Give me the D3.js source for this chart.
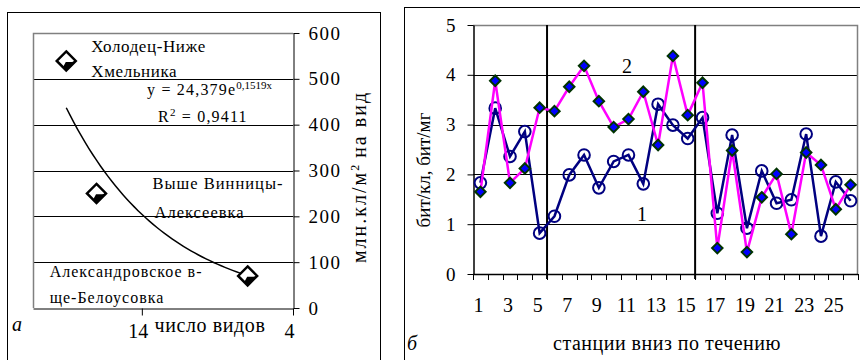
<!DOCTYPE html>
<html>
<head>
<meta charset="utf-8">
<script src="https://cdn.jsdelivr.net/npm/d3@7/dist/d3.min.js"></script>
<style>
    html, body { margin: 0; padding: 0; background: #fff; }
    svg { display: block; }
    svg text { font-family: "Liberation Serif", "Times New Roman", Tinos, "DejaVu Serif", serif; }
</style>
</head>
<body>
<svg id="chart" width="860" height="360"></svg>
<script>
// ---- panel a: density vs species number ----
const siteNames = [
    ['Холодец-Ниже', 'Хмельника'],
    ['Выше Винницы-', 'Алексеевка'],
    ['Александровское в-', 'ще-Белоусовка']
];
const speciesCount = [19, 17, 7];
const densityPerSpecies = [539, 250, 70];
const trendA = 24.379;
const trendB = 0.1519;
const leftYTicks = [0, 100, 200, 300, 400, 500, 600];
const leftXTicks = [14, 4];

// ---- panel б: information index by station ----
const stations = [1, 2, 3, 4, 5, 6, 7, 8, 9, 10, 11, 12, 13, 14, 15, 16, 17, 18, 19, 20, 21, 22, 23, 24, 25, 26];
const series1 = [1.83, 3.33, 2.36, 2.86, 0.82, 1.16, 1.99, 2.39, 1.73, 2.26, 2.39, 1.81, 3.41,
                 2.99, 2.72, 3.14, 1.22, 2.79, 0.92, 2.07, 1.42, 1.49, 2.81, 0.76, 1.85, 1.47];
const series2 = [1.65, 3.88, 1.83, 2.12, 3.34, 3.27, 3.76, 4.18, 3.47, 2.95, 3.11, 3.66, 2.59,
                 4.38, 3.19, 3.84, 0.52, 2.48, 0.44, 1.54, 2.01, 0.80, 2.44, 2.19, 1.30, 1.79];
const rightYTicks = [0, 1, 2, 3, 4, 5];
const stationLabels = [1, 3, 5, 7, 9, 11, 13, 15, 17, 19, 21, 23, 25];
const sectionBreaks = [5, 15]; // vertical divider after these stations

const SERIF = '"Liberation Serif", "Times New Roman", Tinos, "DejaVu Serif", serif';
const svg = d3.select('#chart');

// outer frames
svg.append('rect').attr('x', 7.5).attr('y', 12.5).attr('width', 373).attr('height', 400)
    .attr('fill', 'none').attr('stroke', '#000');
svg.append('rect').attr('x', 404.5).attr('y', 7.5).attr('width', 500).attr('height', 400)
    .attr('fill', 'none').attr('stroke', '#000');

// ================= panel a =================
const L = { left: 33, right: 293, top: 33, bottom: 308 };
const xL = d3.scaleLinear().domain([21.2, 4]).range([L.left, L.right]);
const yL = d3.scaleLinear().domain([0, 600]).range([L.bottom, L.top]);

const gA = svg.append('g');

// gridlines
gA.selectAll('.gridL')
    .data(leftYTicks.filter(d => d > 0 && d < 600))
    .enter().append('line')
    .attr('x1', L.left).attr('x2', L.right)
    .attr('y1', d => Math.round(yL(d)) + 0.5).attr('y2', d => Math.round(yL(d)) + 0.5)
    .attr('stroke', '#000');

// plot frame (top / left gray)
gA.append('path')
    .attr('d', `M${L.left + 0.5},${L.bottom}V${L.top + 0.5}H${L.right}`)
    .attr('fill', 'none').attr('stroke', '#808080').attr('stroke-width', 1.5);

// right value axis
const yAxisL = d3.axisRight(yL).tickValues(leftYTicks).tickFormat(d3.format('d'))
    .tickSize(6).tickSizeOuter(0).tickPadding(9);
gA.append('g')
    .attr('transform', `translate(${L.right + 0.5},0)`)
    .call(yAxisL)
    .attr('font-family', SERIF)
    .call(g => g.select('.domain').attr('stroke', '#000'))
    .call(g => g.selectAll('text')
        .attr('font-size', 19).attr('letter-spacing', 1.5).attr('fill', '#000'));

// bottom axis (reversed species count)
const xAxisL = d3.axisBottom(xL).tickValues(leftXTicks).tickFormat(d3.format('d'))
    .tickSize(7).tickSizeOuter(0).tickPadding(8);
gA.append('g')
    .attr('transform', `translate(0,${L.bottom + 0.5})`)
    .call(xAxisL)
    .attr('font-family', SERIF)
    .call(g => g.select('.domain').attr('stroke', '#000'))
    .call(g => g.selectAll('text')
        .attr('font-size', 20).attr('dx', -4).attr('fill', '#000'));

gA.append('text')
    .attr('x', 210).attr('y', 332)
    .attr('text-anchor', 'middle').attr('font-size', 20).attr('letter-spacing', 0.6)
    .text('число видов');

gA.append('text')
    .attr('x', 12).attr('y', 331)
    .attr('font-size', 20).attr('font-style', 'italic')
    .text('а');

// y title
const yTitleL = gA.append('text')
    .attr('transform', 'translate(366,177) rotate(-90)')
    .attr('text-anchor', 'middle').attr('font-size', 20).attr('letter-spacing', 2);
yTitleL.append('tspan').text('млн.кл/м');
yTitleL.append('tspan').attr('baseline-shift', 'super').attr('font-size', 12).attr('letter-spacing', 0).text('2');
yTitleL.append('tspan').text(' на вид');

// exponential trend line from the fitted equation
const trendX = d3.range(d3.min(speciesCount), d3.max(speciesCount) + 0.001, 0.25);
gA.append('path')
    .datum(trendX)
    .attr('fill', 'none').attr('stroke', '#000').attr('stroke-width', 1.5)
    .attr('d', d3.line().x(d => xL(d)).y(d => yL(trendA * Math.exp(trendB * d))));

// diamond points: white with black lower-right part
const dm = 9.5;
const pts = speciesCount.map((s, i) => ({ x: xL(s), y: yL(densityPerSpecies[i]), name: siteNames[i] }));
const ptG = gA.selectAll('.pt').data(pts).enter().append('g')
    .attr('transform', d => `translate(${d.x},${d.y})`);
ptG.append('path')
    .attr('d', `M0,${-dm}L${dm},0L0,${dm}L${-dm},0Z`)
    .attr('fill', '#fff').attr('stroke', '#000').attr('stroke-width', 2.5);
ptG.append('path')
    .attr('d', `M${dm},0L0,${dm}L${-dm * 0.35},${dm * 0.65}L${-dm * 0.05},${dm * 0.1}L${dm * 0.6},${dm * 0.1}Z`)
    .attr('fill', '#000');

// data labels
const labelOffsets = [[25, -9, 25, 16, 17, 0.6], [56, -4, 58, 25, 16.5, 1.0], [-198, 1, -198, 27, 16, 1.0]];
pts.forEach((p, i) => {
    const o = labelOffsets[i];
    gA.append('text').attr('x', p.x + o[0]).attr('y', p.y + o[1])
        .attr('font-size', o[4]).attr('letter-spacing', o[5]).text(p.name[0]);
    gA.append('text').attr('x', p.x + o[2]).attr('y', p.y + o[3])
        .attr('font-size', o[4]).attr('letter-spacing', o[5]).text(p.name[1]);
});

// trend equation
const eq = gA.append('text').attr('x', 147).attr('y', 95).attr('font-size', 16).attr('letter-spacing', 1.2);
eq.append('tspan').text('y = 24,379e');
eq.append('tspan').attr('baseline-shift', 'super').attr('font-size', 11).attr('letter-spacing', 0).text('0,1519x');
const r2 = gA.append('text').attr('x', 158).attr('y', 122).attr('font-size', 16).attr('letter-spacing', 1.2);
r2.append('tspan').text('R');
r2.append('tspan').attr('baseline-shift', 'super').attr('font-size', 11).text('2');
r2.append('tspan').text(' = 0,9411');

// ================= panel б =================
const R = { left: 473, right: 858, top: 25, bottom: 274 };
const xR = d3.scaleBand().domain(stations).range([R.left, R.right]).padding(0);
const yR = d3.scaleLinear().domain([0, 5]).range([R.bottom, R.top]);
const cx = d => xR(d) + xR.bandwidth() / 2;

const gB = svg.append('g');

gB.selectAll('.gridR')
    .data(rightYTicks.filter(d => d > 0 && d < 5))
    .enter().append('line')
    .attr('x1', R.left).attr('x2', R.right)
    .attr('y1', d => Math.round(yR(d)) + 0.5).attr('y2', d => Math.round(yR(d)) + 0.5)
    .attr('stroke', '#000');

gB.append('path')
    .attr('d', `M${R.left},${R.top + 0.5}H${R.right - 0.5}V${R.bottom}`)
    .attr('fill', 'none').attr('stroke', '#808080').attr('stroke-width', 1.5);

// section dividers
gB.selectAll('.divider')
    .data(sectionBreaks)
    .enter().append('line')
    .attr('x1', d => xR(d) + xR.bandwidth()).attr('x2', d => xR(d) + xR.bandwidth())
    .attr('y1', R.top).attr('y2', R.bottom + 5)
    .attr('stroke', '#000').attr('stroke-width', 2);

// y axis
const yAxisR = d3.axisLeft(yR).tickValues(rightYTicks).tickFormat(d3.format('d'))
    .tickSize(6).tickSizeOuter(0).tickPadding(12);
gB.append('g')
    .attr('transform', `translate(${R.left + 0.5},0)`)
    .call(yAxisR)
    .attr('font-family', SERIF)
    .call(g => g.select('.domain').attr('stroke', '#000').attr('stroke-width', 1.5))
    .call(g => g.selectAll('text')
        .attr('font-size', 19).attr('fill', '#000'));

// x axis line and category boundary ticks
gB.append('line')
    .attr('x1', R.left).attr('x2', R.right)
    .attr('y1', R.bottom + 0.5).attr('y2', R.bottom + 0.5)
    .attr('stroke', '#000').attr('stroke-width', 1.5);
gB.selectAll('.bt')
    .data(stations.map(d => xR(d)).concat([R.right]))
    .enter().append('line')
    .attr('x1', d => Math.round(d) + 0.5).attr('x2', d => Math.round(d) + 0.5)
    .attr('y1', R.bottom).attr('y2', R.bottom + 6)
    .attr('stroke', '#000');

const xAxisR = d3.axisBottom(xR).tickValues(stationLabels).tickSize(0).tickPadding(0);
gB.append('g')
    .attr('transform', `translate(0,${R.bottom})`)
    .call(xAxisR)
    .attr('font-family', SERIF)
    .call(g => g.select('.domain').remove())
    .call(g => g.selectAll('text')
        .attr('font-size', 20).attr('fill', '#000')
        .attr('y', 38).attr('dy', 0).attr('dx', -2));

gB.append('text')
    .attr('x', 667).attr('y', 350)
    .attr('text-anchor', 'middle').attr('font-size', 20).attr('letter-spacing', 0.5)
    .text('станции вниз по течению');

gB.append('text')
    .attr('x', 407).attr('y', 350)
    .attr('font-size', 20).attr('font-style', 'italic')
    .text('б');

gB.append('text')
    .attr('transform', 'translate(430,170) rotate(-90)')
    .attr('text-anchor', 'middle').attr('font-size', 19)
    .text('бит/кл, бит/мг');

// series 1: navy circles
gB.append('path')
    .datum(series1)
    .attr('fill', 'none').attr('stroke', '#000080').attr('stroke-width', 2.5)
    .attr('d', d3.line().x((d, i) => cx(stations[i])).y(d => yR(d)));
gB.selectAll('.c1')
    .data(series1)
    .enter().append('circle')
    .attr('cx', (d, i) => cx(stations[i])).attr('cy', d => yR(d))
    .attr('r', 5.8)
    .attr('fill', 'none').attr('stroke', '#000080').attr('stroke-width', 2);

// series 2: magenta line with blue diamonds
gB.append('path')
    .datum(series2)
    .attr('fill', 'none').attr('stroke', '#ff00ff').attr('stroke-width', 2.5)
    .attr('d', d3.line().x((d, i) => cx(stations[i])).y(d => yR(d)));
gB.selectAll('.d2')
    .data(series2)
    .enter().append('path')
    .attr('transform', (d, i) => `translate(${cx(stations[i])},${yR(d)})`)
    .attr('d', d3.symbol().type(d3.symbolDiamond2).size(70))
    .attr('fill', '#0000ff').attr('stroke', '#003300').attr('stroke-width', 2);

// series labels
gB.append('text').attr('x', 627).attr('y', 73).attr('text-anchor', 'middle').attr('font-size', 20).text('2');
gB.append('text').attr('x', 642).attr('y', 221).attr('text-anchor', 'middle').attr('font-size', 20).text('1');
</script>
</body>
</html>
